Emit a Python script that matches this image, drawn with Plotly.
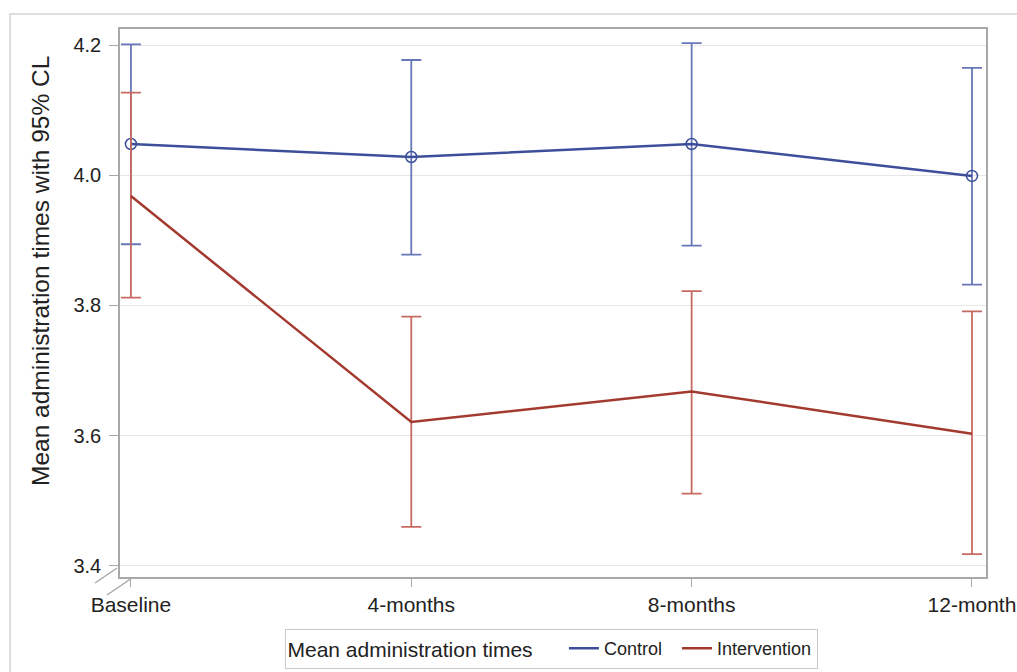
import plotly.graph_objects as go

categories = ["Baseline", "4-months", "8-months", "12-month"]

control_mean = [4.048, 4.028, 4.048, 3.999]
control_upper = [4.201, 4.177, 4.203, 4.165]
control_lower = [3.894, 3.878, 3.892, 3.832]

interv_mean = [3.968, 3.621, 3.668, 3.603]
interv_upper = [4.127, 3.783, 3.822, 3.791]
interv_lower = [3.812, 3.460, 3.511, 3.418]

y_ticks = [3.4, 3.6, 3.8, 4.0, 4.2]

BLUE = "#3D4F9B"
BLUE_EB = "#6777B8"
RED = "#A43A2F"
RED_EB = "#C76A61"
FONT = "Liberation Sans, Arial, sans-serif"

fig = go.Figure()

fig.add_trace(go.Scatter(
    x=categories, y=control_mean, mode="lines", name="Control  ",
    line=dict(color=BLUE, width=2.5),
    error_y=dict(type="data", symmetric=False,
                 array=[u - m for u, m in zip(control_upper, control_mean)],
                 arrayminus=[m - l for m, l in zip(control_mean, control_lower)],
                 color=BLUE_EB, thickness=1.8, width=10),
))
fig.add_trace(go.Scatter(
    x=categories, y=control_mean, mode="markers", showlegend=False,
    marker=dict(symbol="circle-open", size=11, color=BLUE, line=dict(width=1.5, color=BLUE)),
))
fig.add_trace(go.Scatter(
    x=categories, y=interv_mean, mode="lines", name="Intervention",
    line=dict(color=RED, width=2.5),
    error_y=dict(type="data", symmetric=False,
                 array=[u - m for u, m in zip(interv_upper, interv_mean)],
                 arrayminus=[m - l for m, l in zip(interv_mean, interv_lower)],
                 color=RED_EB, thickness=1.8, width=10),
))

# target plot area in screen pixels: x 120..986, y 29..577 (body margin removed)
W, H = 1017, 672
SL, SR, ST, SB = 120, 986, 29, 577
L, T = SL, ST
R = W - SR
B = H - SB
pw, ph = SR - SL, SB - ST

def px(x):
    return (x - SL) / pw

def py(y):
    return (SB - y) / ph

shapes = [
    # outer light border (top and left)
    dict(type="path", xref="paper", yref="paper",
         path=f"M {px(10)},{py(690)} L {px(10)},{py(14)} L {px(1030)},{py(14)}",
         line=dict(color="#D4D4D4", width=1.5)),
    # axis break marks
    dict(type="line", xref="paper", yref="paper",
         x0=px(95), y0=py(583), x1=px(117), y1=py(568),
         line=dict(color="#A8A8A8", width=1.5)),
    dict(type="line", xref="paper", yref="paper",
         x0=px(107), y0=py(595), x1=px(132), y1=py(578),
         line=dict(color="#A8A8A8", width=1.5)),
]

fig.update_layout(
    width=W, height=H, autosize=False,
    margin=dict(l=L, r=R, t=T, b=B, autoexpand=False),
    paper_bgcolor="white", plot_bgcolor="white",
    font=dict(family=FONT, color="#333333"),
    shapes=shapes,
    showlegend=True,
    legend=dict(
        orientation="h", x=px(551), xanchor="center", y=py(649), yanchor="middle",
        title=dict(text="Mean administration times    ", font=dict(size=21, family=FONT, color="#222222")),
        font=dict(size=18, family=FONT, color="#222222"),
        bordercolor="#C8C8C8", borderwidth=1, bgcolor="white",
    ),
    annotations=[dict(
        text="Mean administration times with 95% CL", textangle=-90,
        xref="paper", yref="paper", x=px(40), y=py(271), xanchor="center", yanchor="middle",
        showarrow=False, font=dict(size=24.5, family=FONT, color="#222222"),
    )],
)

fig.update_xaxes(
    type="category", categoryorder="array", categoryarray=categories,
    range=[-0.039, 3.05], automargin=False,
    showline=True, mirror=True, linecolor="#A8A8A8", linewidth=1.5,
    showgrid=False, zeroline=False,
    ticks="outside", ticklen=8, tickcolor="#A8A8A8", tickwidth=1,
    tickfont=dict(size=21, family=FONT, color="#222222"),
)
fig.update_yaxes(
    range=[3.383, 4.2246], automargin=False,
    tickvals=y_ticks, ticktext=[f"{v:.1f}" for v in y_ticks],
    showline=True, mirror=True, linecolor="#A8A8A8", linewidth=1.5,
    showgrid=True, gridcolor="#E6E6E6", gridwidth=1, zeroline=False,
    ticks="outside", ticklen=9, tickcolor="#A8A8A8", tickwidth=1,
    ticklabelstandoff=4,
    tickfont=dict(size=20, family=FONT, color="#222222"),
)

fig.write_html(
    "out.html",
    config={"displayModeBar": False},
    post_script="document.body.style.margin='0';document.body.style.overflow='hidden';",
)
